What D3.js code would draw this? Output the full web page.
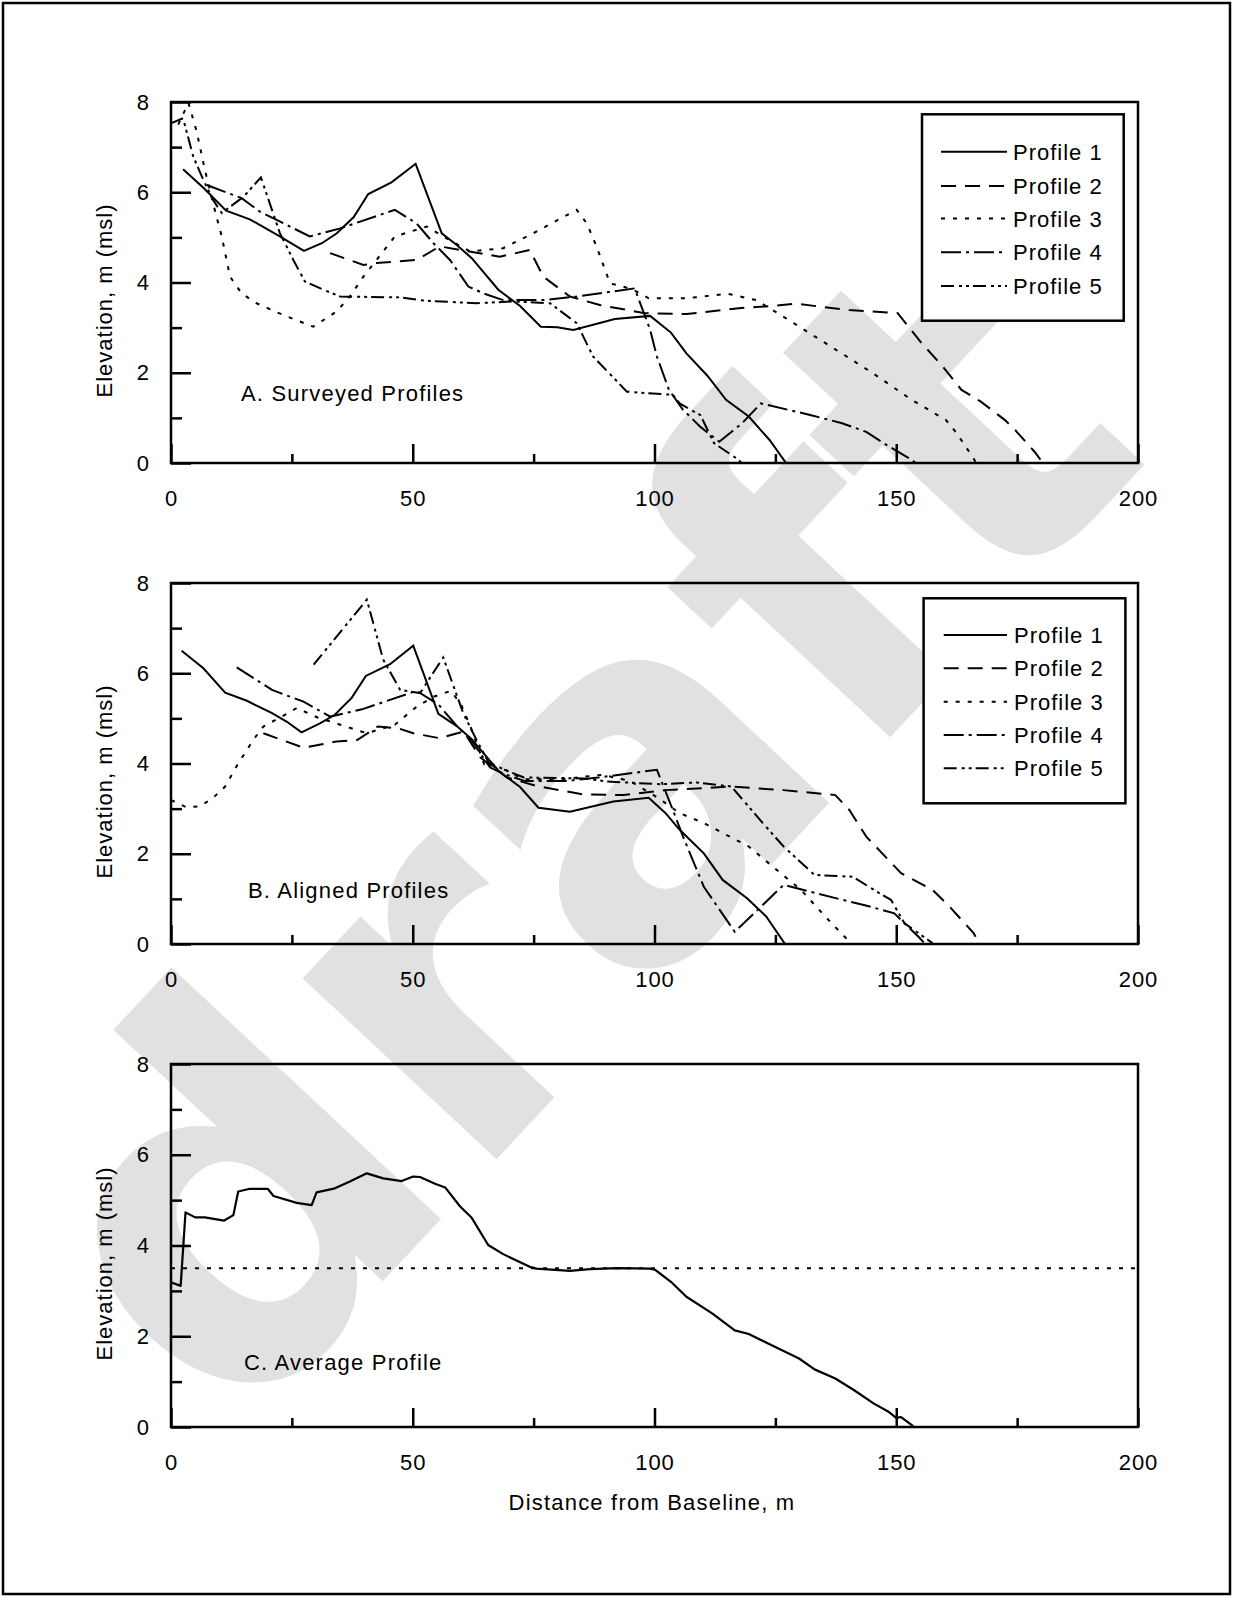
<!DOCTYPE html>
<html><head><meta charset="utf-8">
<script src="https://cdn.jsdelivr.net/npm/d3@7"></script>
<style>
body{margin:0;background:#fff}
svg{display:block}
text{font-family:"Liberation Sans",Arial,Helvetica,sans-serif;fill:#000}
</style>
</head><body>
<svg id="chart" width="1233" height="1597"></svg>
<script>
// ---------- data ----------
const xTickValues = [0, 50, 100, 150, 200];
const xMinorTicks = [25, 75, 125, 175];
const yTickValues = [0, 2, 4, 6, 8];
const yMinorTicks = [1, 3, 5, 7];
const profileNames = ["Profile 1", "Profile 2", "Profile 3", "Profile 4", "Profile 5"];
const panelTitles = ["A. Surveyed Profiles", "B. Aligned Profiles", "C. Average Profile"];
const yAxisTitle = "Elevation, m (msl)";
const xAxisTitle = "Distance from Baseline, m";
const watermarkText = "draft";

// A. surveyed profiles  [distance m, elevation m]
const surveyed1 = [[2.5,6.51],[6.7,6.10],[11.4,5.59],[16.3,5.40],[22.5,5.02],[27.5,4.70],[31.2,4.87],[34.3,5.09],[37.8,5.45],[40.8,5.96],[45.6,6.22],[50.6,6.63],[56.0,5.09],[59.1,4.83],[62.2,4.54],[67.7,3.84],[72.2,3.48],[76.5,3.02],[79.9,3.01],[83.2,2.95],[91.8,3.19],[99.1,3.26],[103.4,2.89],[106.6,2.43],[110.9,1.94],[114.8,1.40],[119.5,1.03],[123.8,0.51],[127.2,0]];
const surveyed2 = [[32.9,4.65],[39.8,4.39],[42.5,4.43],[50.8,4.50],[55.6,4.80],[61.0,4.70],[68.0,4.57],[74.2,4.72],[77.0,4.13],[82.5,3.69],[88.7,3.50],[98.0,3.32],[106.6,3.30],[117.4,3.43],[124.5,3.48],[129.2,3.53],[140.2,3.39],[150.3,3.32],[155.3,2.65],[159.6,2.14],[163.5,1.62],[167.5,1.36],[172.5,0.95],[174.6,0.73],[178.6,0.25],[180.0,0.05]];
const surveyed3 = [[1.5,7.5],[3.6,7.98],[5.3,7.35],[7.0,6.5],[9.4,5.46],[10.5,5.02],[12.2,4.13],[14.6,3.76],[17.7,3.54],[23.2,3.28],[29.4,3.02],[34.3,3.36],[37.0,3.69],[39.8,4.13],[42.5,4.50],[46.3,5.02],[50.8,5.17],[52.9,5.24],[56.3,5.02],[61.8,4.69],[68.7,4.76],[74.9,5.09],[83.9,5.61],[86.0,5.31],[88.0,4.80],[90.8,3.98],[93.5,3.91],[95.6,3.84],[98.8,3.65],[106.6,3.65],[115.2,3.75],[121.0,3.61],[126.7,3.24],[135.3,2.66],[144.6,2.03],[153.2,1.40],[160.3,0.95],[162.5,0.66],[166.0,0.10],[166.5,0]];
const surveyed4 = [[7.4,6.16],[14.6,5.87],[18.4,5.57],[24.6,5.24],[28.7,5.02],[35.0,5.20],[46.3,5.61],[50.8,5.31],[54.3,4.87],[57.7,4.50],[61.5,3.91],[64.6,3.76],[68.7,3.61],[77.0,3.61],[83.9,3.69],[95.9,3.87],[99.1,2.95],[100.5,2.36],[103.0,1.62],[105.9,1.18],[109.5,0.80],[113.4,0.47],[118.1,0.88],[122.0,1.32],[132.4,1.06],[138.8,0.88],[143.8,0.69],[147.4,0.44],[153.2,0.07],[154.0,0]];
const surveyed5 = [[0,7.53],[2.5,7.64],[4.6,6.79],[6.7,6.27],[8.7,5.83],[10.5,5.54],[15.0,5.90],[18.6,6.33],[22.5,5.10],[25.3,4.50],[27.7,4.02],[31.5,3.84],[35.0,3.69],[47.4,3.67],[52.2,3.60],[63.2,3.54],[70.8,3.58],[78.4,3.54],[83.9,3.10],[87.3,2.36],[94.3,1.58],[103.8,1.51],[105.2,1.32],[109.5,1.06],[112.3,0.44],[117.4,0.07],[118.0,0]];

// B. aligned profiles
const aligned1 = [[2.2,6.50],[6.7,6.11],[11.2,5.57],[15.7,5.39],[20.8,5.12],[23.9,4.93],[27.0,4.69],[30.8,4.89],[33.9,5.08],[37.4,5.46],[40.3,5.94],[45.3,6.20],[50.1,6.61],[55.3,5.10],[59.1,4.83],[62.2,4.54],[67.7,3.84],[72.2,3.48],[76.0,3.02],[82.5,2.93],[91.5,3.16],[98.8,3.24],[102.3,2.90],[105.2,2.53],[110.2,2.01],[114.1,1.42],[119.2,1.01],[123.1,0.61],[127.0,0]];
const aligned2 = [[19.1,4.67],[27.4,4.35],[34.3,4.49],[38.5,4.52],[42.8,4.82],[47.0,4.78],[50.1,4.67],[55.6,4.56],[60.5,4.71],[64.0,4.13],[69.5,3.69],[75.7,3.50],[85.0,3.32],[93.6,3.30],[102.3,3.41],[115.9,3.49],[126.7,3.41],[137.4,3.30],[140.3,2.97],[143.8,2.38],[151.0,1.57],[157.5,1.20],[161.0,0.83],[166.0,0.24],[167.0,0.05]];
const aligned3 = [[0,3.19],[3.2,3.03],[6.0,3.05],[8.7,3.24],[11.2,3.49],[13.9,4.00],[17.0,4.52],[19.1,4.82],[22.9,5.04],[26.0,5.23],[30.3,5.02],[35.0,4.86],[40.5,4.67],[46.3,4.86],[50.8,5.26],[54.3,5.48],[57.9,5.61],[60.0,5.31],[62.0,4.80],[64.8,3.98],[67.5,3.91],[69.6,3.84],[72.8,3.65],[80.6,3.65],[89.2,3.75],[95.0,3.61],[100.7,3.24],[105.2,2.90],[110.2,2.68],[119.5,2.16],[124.5,1.71],[130.3,1.20],[135.3,0.61],[139.6,0.13],[140.2,0]];
const aligned4 = [[13.6,6.13],[20.9,5.63],[27.4,5.37],[32.9,5.04],[39.5,5.20],[50.8,5.61],[55.3,5.31],[58.8,4.87],[62.2,4.50],[66.0,3.91],[69.1,3.76],[73.2,3.61],[81.5,3.61],[88.4,3.69],[100.5,3.86],[103.8,2.97],[105.9,2.38],[110.2,1.27],[116.6,0.27],[126.7,1.31],[138.8,0.98],[143.5,0.86],[149.6,0.68],[154.6,0.16],[156.0,0]];
const aligned5 = [[29.5,6.19],[40.5,7.63],[43.9,6.30],[47.4,5.63],[51.5,5.56],[56.3,6.35],[60.5,5.10],[63.3,4.50],[65.7,4.02],[69.5,3.84],[73.0,3.69],[85.4,3.67],[90.2,3.60],[101.2,3.54],[108.8,3.58],[115.9,3.49],[122.4,2.68],[126.7,2.16],[133.1,1.53],[141.0,1.49],[146.0,1.16],[148.9,0.98],[151.7,0.46],[157.5,0.02]];

// C. average profile
const averageProfile = [[0,3.19],[2.0,3.11],[3.0,4.73],[5.0,4.62],[7.0,4.62],[11.0,4.55],[12.9,4.67],[13.9,5.19],[16.3,5.25],[20.0,5.25],[21.2,5.09],[26.0,4.94],[29.1,4.89],[30.1,5.17],[33.9,5.26],[37.0,5.41],[40.5,5.59],[43.9,5.48],[47.7,5.42],[50.1,5.52],[51.5,5.51],[54.6,5.36],[56.7,5.28],[59.8,4.86],[62.2,4.61],[65.6,4.01],[68.7,3.81],[74.2,3.53],[75.6,3.49],[82.5,3.44],[86.7,3.48],[92.2,3.50],[99.1,3.49],[100.2,3.46],[103.4,3.20],[106.6,2.87],[112.0,2.50],[116.6,2.13],[119.5,2.05],[125.2,1.75],[129.9,1.51],[133.1,1.27],[137.4,1.07],[141.3,0.81],[145.3,0.52],[148.5,0.33],[150.0,0.20],[151.0,0.22],[153.5,0.02]];
const referenceLevel = [[0,3.5],[200,3.5]];

// ---------- drawing ----------
const svg = d3.select("#chart");
const W = 1233, H = 1597;
const dashStyles = [null, "15,9", "4,8", "20,5,3,5", "13,5,3,4,3,4"];

// watermark (behind everything)
svg.append("text")
  .attr("transform", "translate(232,1443) rotate(-47)")
  .style("font-family", '"DejaVu Sans",Verdana,sans-serif')
  .style("font-size", "485px").style("font-weight", "bold")
  .style("fill", "#e1e1e1")
  .text(watermarkText);

// page border
svg.append("rect").attr("x", 3).attr("y", 3).attr("width", W - 6).attr("height", H - 6)
  .attr("fill", "none").attr("stroke", "#000").attr("stroke-width", 2.5);

const x = d3.scaleLinear().domain([0, 200]).range([171, 1138]);

const panels = [
  {top: 102, bottom: 463, series: [surveyed1, surveyed2, surveyed3, surveyed4, surveyed5],
   legend: {x0: 922, y0: 114.3, x1: 1123.7, y1: 320.7, rows: [151.7, 186, 218.6, 252.3, 286], lx0: 941, lx1: 1007, tx: 1013},
   title: {x: 241, y: 401}},
  {top: 583, bottom: 944, series: [aligned1, aligned2, aligned3, aligned4, aligned5],
   legend: {x0: 923.6, y0: 598.3, x1: 1125.4, y1: 803.3, rows: [635, 668.3, 701.7, 735, 768.3], lx0: 943.7, lx1: 1007, tx: 1014},
   title: {x: 248, y: 898}},
  {top: 1064, bottom: 1427, series: null, legend: null, title: {x: 244, y: 1370}}
];

panels.forEach((p, i) => {
  const y = d3.scaleLinear().domain([0, 8]).range([p.bottom, p.top]);
  const g = svg.append("g");
  const clipId = "clip" + i;
  svg.append("clipPath").attr("id", clipId).append("rect")
    .attr("x", 171).attr("y", p.top).attr("width", 1138 - 171).attr("height", p.bottom - p.top);

  const line = d3.line().x(d => x(d[0])).y(d => y(d[1]));
  const lines = g.append("g").attr("clip-path", `url(#${clipId})`);

  if (p.series) {
    p.series.forEach((s, k) => {
      lines.append("path").datum(s).attr("d", line)
        .attr("fill", "none").attr("stroke", "#000").attr("stroke-width", 2)
        .attr("stroke-dasharray", dashStyles[k]);
    });
  } else {
    lines.append("path").datum(referenceLevel).attr("d", line)
      .attr("fill", "none").attr("stroke", "#000").attr("stroke-width", 2)
      .attr("stroke-dasharray", "4,8");
    lines.append("path").datum(averageProfile).attr("d", line)
      .attr("fill", "none").attr("stroke", "#000").attr("stroke-width", 2.2)
      .attr("stroke-linejoin", "round");
  }

  // axes (inward ticks)
  const xMajor = d3.axisBottom(x).tickValues(xTickValues).tickSize(-19).tickSizeOuter(0).tickPadding(27);
  const xMinor = d3.axisBottom(x).tickValues(xMinorTicks).tickSize(-9).tickSizeOuter(0).tickFormat("");
  const yMajor = d3.axisLeft(y).tickValues(yTickValues).tickSize(-20).tickSizeOuter(0).tickPadding(21);
  const yMinor = d3.axisLeft(y).tickValues(yMinorTicks).tickSize(-11).tickSizeOuter(0).tickFormat("");
  [[xMajor, `translate(0,${p.bottom})`], [xMinor, `translate(0,${p.bottom})`],
   [yMajor, `translate(171,0)`], [yMinor, `translate(171,0)`]].forEach(([ax, tr]) => {
    const a = g.append("g").attr("transform", tr).call(ax);
    a.select(".domain").remove();
    a.selectAll("line").attr("stroke", "#000").attr("stroke-width", 2.5);
    a.selectAll("text").style("font-size", "22px").style("letter-spacing", "1px")
      .attr("fill", "#000").style("font-family", '"Liberation Sans",Arial,sans-serif');
  });

  // frame
  g.append("rect").attr("x", 171).attr("y", p.top).attr("width", 1138 - 171).attr("height", p.bottom - p.top)
    .attr("fill", "none").attr("stroke", "#000").attr("stroke-width", 2.5);

  // y title
  g.append("text")
    .attr("transform", `translate(104,${(p.top + p.bottom) / 2 + 18}) rotate(-90)`)
    .attr("text-anchor", "middle").attr("dy", "0.35em")
    .style("font-size", "22px").style("letter-spacing", "1px")
    .text(yAxisTitle);

  // panel title
  g.append("text").attr("x", p.title.x).attr("y", p.title.y)
    .style("font-size", "22px").style("letter-spacing", "1.2px")
    .text(panelTitles[i]);

  // legend
  if (p.legend) {
    const L = p.legend;
    const lg = g.append("g");
    lg.append("rect").attr("x", L.x0).attr("y", L.y0).attr("width", L.x1 - L.x0).attr("height", L.y1 - L.y0)
      .attr("fill", "#fff").attr("stroke", "#000").attr("stroke-width", 2.5);
    profileNames.forEach((name, k) => {
      lg.append("line").attr("x1", L.lx0).attr("x2", L.lx1).attr("y1", L.rows[k]).attr("y2", L.rows[k])
        .attr("stroke", "#000").attr("stroke-width", 2).attr("stroke-dasharray", dashStyles[k]);
      lg.append("text").attr("x", L.tx).attr("y", L.rows[k]).attr("dy", "0.36em")
        .style("font-size", "22px").style("letter-spacing", "1px").text(name);
    });
  }
});

// x axis title
svg.append("text").attr("x", 652).attr("y", 1510).attr("text-anchor", "middle")
  .style("font-size", "22px").style("letter-spacing", "1.2px").text(xAxisTitle);
</script>
</body></html>
